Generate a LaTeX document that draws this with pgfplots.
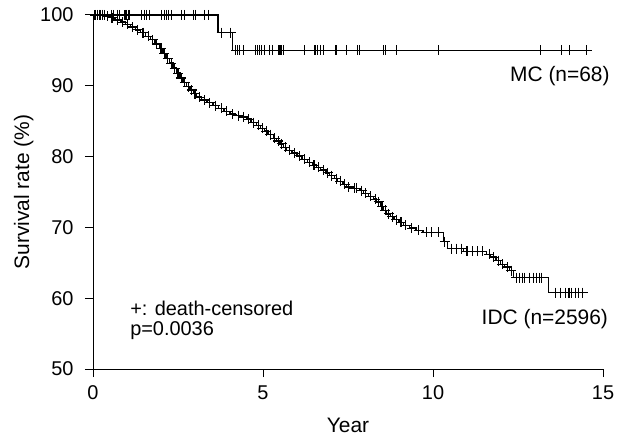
\documentclass[border=0pt]{standalone}
\usepackage{fontspec}
\setmainfont{Liberation Sans}
\usepackage{pgfplots}
\usepackage{pgfplotstable}
\pgfplotsset{compat=1.18}

\pgfplotstableread{
x y c
0 100 0
0.12 100 1
0.2 100 1
0.28 100 1
0.35 99.8 0
0.42 99.8 1
0.5 99.6 0
0.56 99.6 1
0.65 99.3 0
0.72 99.3 1
0.8 99.0 0
0.87 99.0 1
0.95 98.7 0
1.02 98.7 1
1.1 98.3 0
1.17 98.3 1
1.25 97.9 0
1.32 97.9 1
1.4 97.5 0
1.47 97.5 1
1.55 97.0 0
1.62 97.0 1
1.7 96.5 0
1.76 96.5 1
1.82 95.9 0
1.88 95.9 1
1.95 95.3 0
2.0 95.3 1
2.06 94.6 0
2.1 94.6 1
2.15 93.9 0
2.2 93.9 1
2.25 93.2 0
2.3 93.2 1
2.35 92.5 0
2.4 92.5 1
2.45 91.8 0
2.5 91.8 1
2.56 91.1 0
2.6 91.1 1
2.65 90.5 0
2.7 90.5 1
2.75 89.9 0
2.8 89.9 1
2.85 89.4 0
2.9 89.4 1
2.95 88.9 0
3.0 88.9 1
3.05 88.4 0
3.12 88.4 1
3.2 88.0 0
3.27 88.0 1
3.35 87.6 0
3.43 87.6 1
3.53 87.2 0
3.6 87.2 1
3.7 86.8 0
3.77 86.8 1
3.85 86.4 0
3.93 86.4 1
4.03 86.0 0
4.1 86.0 1
4.2 85.8 0
4.27 85.8 1
4.35 85.6 0
4.42 85.6 1
4.52 85.3 0
4.58 85.3 1
4.65 84.8 0
4.72 84.8 1
4.8 84.4 0
4.86 84.4 1
4.92 84.0 0
4.98 84.0 1
5.05 83.6 0
5.1 83.6 1
5.15 83.1 0
5.22 83.1 1
5.3 82.6 0
5.35 82.6 1
5.4 82.2 0
5.45 82.2 1
5.5 81.8 0
5.55 81.8 1
5.6 81.3 0
5.65 81.3 1
5.7 80.9 0
5.77 80.9 1
5.85 80.5 0
5.92 80.5 1
6.0 80.1 0
6.07 80.1 1
6.15 79.6 0
6.22 79.6 1
6.3 79.2 0
6.37 79.2 1
6.45 78.8 0
6.5 78.8 1
6.58 78.5 0
6.64 78.5 1
6.7 78.1 0
6.77 78.1 1
6.85 77.7 0
6.9 77.7 1
6.95 77.3 0
7.02 77.3 1
7.1 76.9 0
7.15 76.9 1
7.2 76.5 0
7.27 76.5 1
7.35 76.1 0
7.4 76.1 1
7.46 75.7 0
7.52 75.7 1
7.6 75.5 0
7.68 75.5 1
7.76 75.5 1
7.85 75.2 0
7.9 75.2 1
7.95 74.8 0
8.02 74.8 1
8.1 74.4 0
8.17 74.4 1
8.25 74.0 0
8.3 74.0 1
8.34 73.6 0
8.4 73.6 1
8.45 73.0 0
8.5 73.0 1
8.55 72.4 0
8.6 72.4 1
8.64 71.9 0
8.7 71.9 1
8.75 71.5 0
8.8 71.5 1
8.85 71.1 0
8.92 71.1 1
9.0 70.7 0
9.06 70.7 1
9.13 70.3 0
9.2 70.3 1
9.3 69.9 0
9.38 69.9 1
9.5 69.6 0
9.58 69.6 1
9.71 69.3 0
9.8 69.3 1
9.95 69.3 1
10.15 69.3 1
10.3 68.0 0
10.35 68.0 1
10.42 67.0 0
10.55 67.0 1
10.7 67.0 1
10.85 67.0 1
10.9 66.6 0
11.0 66.6 1
11.15 66.6 1
11.3 66.6 1
11.45 66.6 1
11.58 66.2 0
11.65 66.2 1
11.7 65.8 0
11.78 65.8 1
11.85 65.3 0
11.92 65.3 1
11.98 64.8 0
12.04 64.8 1
12.1 64.4 0
12.18 64.4 1
12.26 63.9 0
12.3 63.9 1
12.36 62.9 0
12.45 62.9 1
12.55 62.9 1
12.62 62.9 1
12.7 62.9 1
12.85 62.9 1
12.95 62.9 1
13.05 62.9 1
13.12 62.9 1
13.2 62.9 1
13.39 60.8 0
13.6 60.8 1
13.75 60.8 1
13.9 60.8 1
14.0 60.8 1
14.08 60.8 1
14.18 60.8 1
14.28 60.8 1
14.4 60.8 1
14.52 60.8 0
}\idc

\pgfplotstableread{
x y c
0 100 0
0.06 100 1
0.19 100 1
0.23 100 1
0.28 100 1
0.33 100 1
0.55 100 1
0.6 100 1
0.71 100 1
0.79 100 1
0.94 100 1
0.99 100 1
1.06 100 1
1.43 100 1
1.51 100 1
1.58 100 1
1.65 100 1
2.02 100 1
2.09 100 1
2.15 100 1
2.22 100 1
2.31 100 1
2.61 100 1
2.68 100 1
2.95 100 1
3.02 100 1
3.27 100 1
3.39 100 1
3.68 97.5 0
3.78 97.5 1
4.05 97.5 1
4.1 95.0 0
4.2 95.0 1
4.26 95.0 1
4.32 95.0 1
4.42 95.0 1
4.78 95.0 1
4.83 95.0 1
4.89 95.0 1
4.96 95.0 1
5.04 95.0 1
5.19 95.0 1
5.28 95.0 1
5.47 95.0 1
5.53 95.0 1
5.6 95.0 1
6.21 95.0 1
6.53 95.0 1
6.6 95.0 1
6.68 95.0 1
6.79 95.0 1
7.12 95.0 1
7.17 95.0 1
7.46 95.0 1
7.78 95.0 1
7.85 95.0 1
8.54 95.0 1
8.61 95.0 1
8.93 95.0 1
10.16 95.0 1
13.15 95.0 1
13.78 95.0 1
14.01 95.0 1
14.52 95.0 1
14.6 95.0 0
}\mc

\begin{document}
\begin{tikzpicture}
\begin{axis}[
  at={(93bp,68bp)}, anchor=south west,
  scale only axis, width=510bp, height=354bp,
  xmin=0, xmax=15, ymin=50, ymax=100,
  axis x line*=bottom, axis y line*=left,
  axis line style={-, line width=1bp, black},
  xtick={0,5,10,15}, ytick={50,60,70,80,90,100},
  minor tick num=0,
  tick align=outside, major tick length=8bp,
  tick style={black, line width=1bp},
  clip=false,
  /pgf/number format/assume math mode=true,
  tick label style={font=\fontsize{20}{23}\selectfont},
  yticklabel style={xshift=-8bp},
  xticklabel style={yshift=-5bp},
  label style={font=\fontsize{21}{25}\selectfont},
  xlabel={Year}, ylabel={Survival rate (\%)},
  xlabel style={at={(axis description cs:0.5,-0.158)}, anchor=center},
  ylabel style={at={(axis description cs:-0.136,0.5)}, anchor=center},
]
\addplot[const plot, black, line width=1.3bp] table[x=x,y=y] {\idc};
\addplot[only marks, mark=+, mark size=5bp, black, mark options={line width=1.1bp},
  restrict expr to domain={\thisrow{c}}{0.5:1.5}] table[x=x,y=y] {\idc};
\addplot[const plot, black, line width=1.3bp] table[x=x,y=y] {\mc};
\addplot[only marks, mark=+, mark size=5bp, black, mark options={line width=1.1bp},
  restrict expr to domain={\thisrow{c}}{0.5:1.5}] table[x=x,y=y] {\mc};
\node[anchor=east, inner sep=0pt, font=\fontsize{21}{25}\selectfont] at (axis cs:15.2,91.4) {MC (n=68)};
\node[anchor=east, inner sep=0pt, font=\fontsize{21}{25}\selectfont] at (axis cs:15.15,57.1) {IDC (n=2596)};
\node[anchor=west, inner sep=0pt, font=\fontsize{20}{23}\selectfont] at (axis cs:1.09,58.5) {+: death-censored};
\node[anchor=west, inner sep=0pt, font=\fontsize{20}{23}\selectfont] at (axis cs:1.09,55.4) {p=0.0036};
\end{axis}
\pgfresetboundingbox
\path[use as bounding box] (0,0) rectangle (628bp,437bp);
\end{tikzpicture}
\end{document}
